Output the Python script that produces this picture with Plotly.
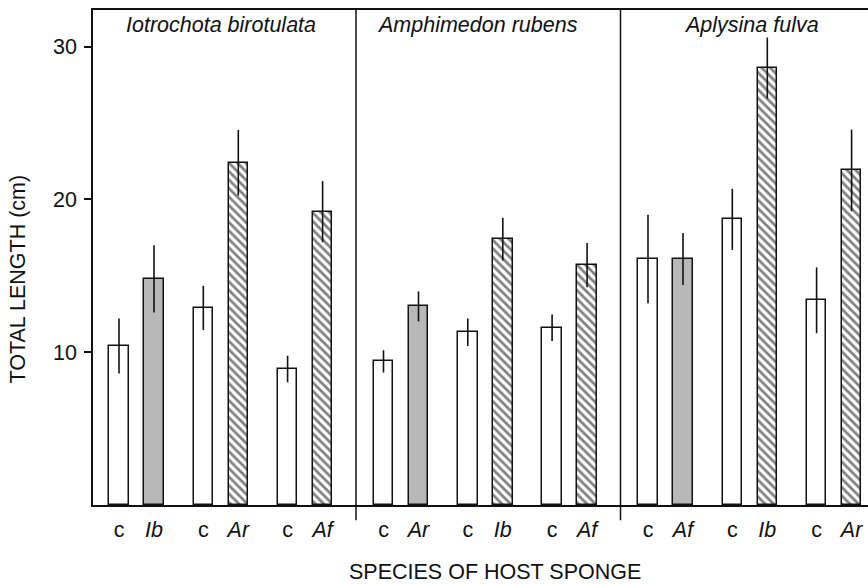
import plotly.graph_objects as go

# ---------------- data ----------------
panels = ["Iotrochota birotulata", "Amphimedon rubens", "Aplysina fulva"]
host_labels = [["Ib", "Ar", "Af"], ["Ar", "Ib", "Af"], ["Af", "Ib", "Ar"]]
control_mean = [[10.4, 12.9, 8.9], [9.4, 11.3, 11.6], [16.1, 18.7, 13.4]]
control_err = [[1.8, 1.45, 0.87], [0.73, 0.9, 0.87], [2.9, 2.0, 2.15]]
treat_mean = [[14.8, 22.4, 19.2], [13.0, 17.4, 15.7], [16.1, 28.6, 21.9]]
treat_err = [[2.2, 2.15, 2.0], [0.98, 1.4, 1.45], [1.7, 2.0, 2.67]]
y_ticks = [10, 20, 30]

# ---------------- layout constants (pixel-like x units) ----------------
X_RANGE = 775
FIRST = 43.5
PANEL_W = 264.5
PAIR_GAP = 84.3
OFF = 17.5
BAR_W = 19.5
Y_MAX = 32.4
FONT = "Liberation Sans, Arial, Helvetica, sans-serif"
FS = 21.5

fig = go.Figure()

cx, cy, ce = [], [], []
gx, gy, ge = [], [], []
hx, hy, he = [], [], []
tickvals, ticktext = [], []
for p in range(len(panels)):
    for j in range(3):
        center = FIRST + p * PANEL_W + j * PAIR_GAP
        cx.append(center - OFF); cy.append(control_mean[p][j]); ce.append(control_err[p][j])
        tx = center + OFF
        if j == 0:
            gx.append(tx); gy.append(treat_mean[p][j]); ge.append(treat_err[p][j])
        else:
            hx.append(tx); hy.append(treat_mean[p][j]); he.append(treat_err[p][j])
        tickvals += [center - OFF, tx]
        ticktext += ["c", "<i>" + host_labels[p][j] + "</i>"]

err_style = dict(type="data", visible=True, thickness=1.6, width=0, color="#111")
line_style = dict(color="#111", width=1.5)

fig.add_trace(go.Bar(x=cx, y=cy, width=BAR_W, marker=dict(color="white", line=line_style),
                     error_y=dict(array=ce, **err_style)))
fig.add_trace(go.Bar(x=gx, y=gy, width=BAR_W, marker=dict(color="#b8b8b8", line=line_style),
                     error_y=dict(array=ge, **err_style)))
fig.add_trace(go.Bar(x=hx, y=hy, width=BAR_W,
                     marker=dict(color="white", line=line_style,
                                 pattern=dict(shape="\\", fgcolor="#000", bgcolor="white",
                                              size=6, solidity=0.45)),
                     error_y=dict(array=he, **err_style)))

# panel dividers (extend slightly below the axis)
for k in range(1, len(panels)):
    xb = (k * PANEL_W - 1.5) / X_RANGE
    fig.add_shape(type="line", xref="paper", yref="paper", x0=xb, x1=xb, y0=-0.031, y1=1,
                  line=dict(color="#111", width=1.5))

# panel titles
title_shift = [0, -8, 2]
for p, name in enumerate(panels):
    fig.add_annotation(x=FIRST + p * PANEL_W + PAIR_GAP + title_shift[p], y=0.97,
                       xref="x", yref="paper",
                       text="<i>" + name + "</i>", showarrow=False,
                       font=dict(size=FS, family=FONT, color="#111"),
                       xanchor="center", yanchor="middle")

# axis titles
fig.add_annotation(x=-75.5 / 775, y=(505 - 279) / 495, xref="paper", yref="paper",
                   text="TOTAL LENGTH (cm)", textangle=-90, showarrow=False,
                   font=dict(size=FS, family=FONT, color="#111"),
                   xanchor="center", yanchor="middle")
fig.add_annotation(x=(495 - 93) / 775, y=-67 / 495, xref="paper", yref="paper",
                   text="SPECIES OF HOST SPONGE", showarrow=False,
                   font=dict(size=FS, family=FONT, color="#111"),
                   xanchor="center", yanchor="middle")

fig.update_layout(
    width=868, height=584,
    margin=dict(l=93, r=0, t=10, b=79),
    paper_bgcolor="white", plot_bgcolor="white",
    showlegend=False, bargap=0,
    font=dict(family=FONT, size=FS, color="#111"),
    xaxis=dict(range=[0, X_RANGE], showgrid=False, zeroline=False,
               showline=True, mirror=True, linecolor="#111", linewidth=1.5,
               tickmode="array", tickvals=tickvals, ticktext=ticktext, ticks="",
               ticklabelstandoff=4, tickfont=dict(size=FS, family=FONT, color="#111")),
    yaxis=dict(range=[0, Y_MAX], showgrid=False, zeroline=False,
               showline=True, linecolor="#111", linewidth=1.5,
               tickmode="array", tickvals=y_ticks, ticks="outside", ticklen=7,
               tickwidth=1.5, tickcolor="#111", ticklabelstandoff=3,
               tickfont=dict(size=FS, family=FONT, color="#111")),
)

fig.write_html("out.html")
